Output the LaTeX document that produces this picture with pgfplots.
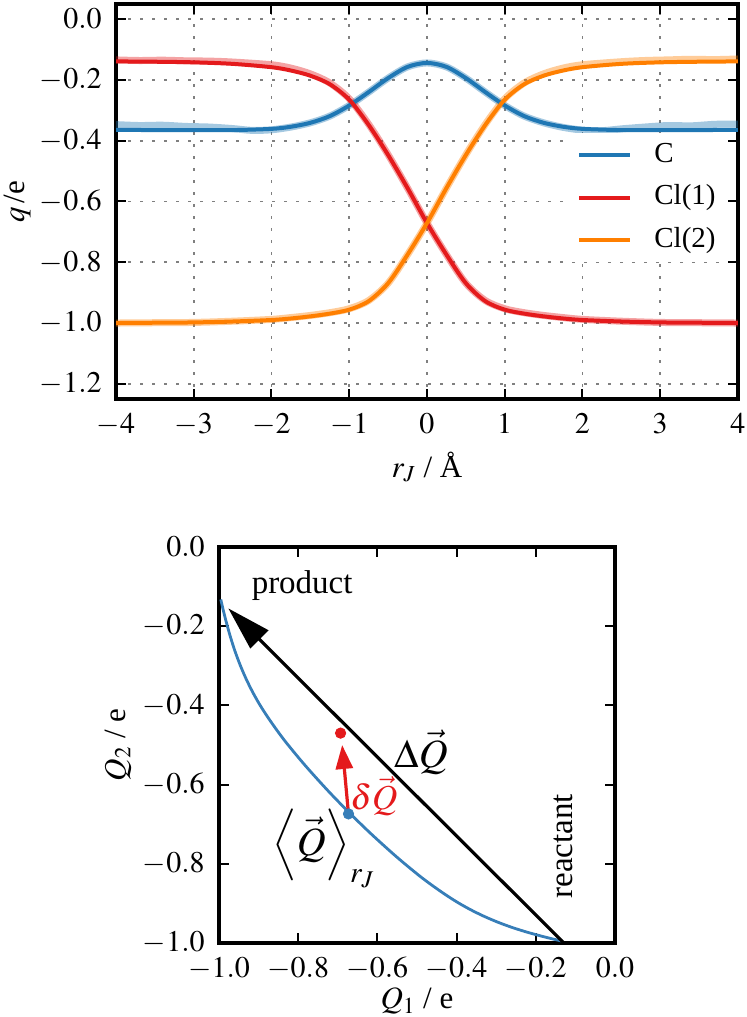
\documentclass[border=0pt]{standalone}
\usepackage{amsmath}
\usepackage{mathptmx}
\usepackage[no-math]{fontspec}
\setmainfont{Liberation Serif}
\usepackage{pgfplots}
\usepackage{pgfplotstable}
\pgfplotsset{compat=1.18}
\usetikzlibrary{arrows.meta}

\definecolor{cC}{RGB}{31,119,180}
\definecolor{cClA}{RGB}{228,26,28}
\definecolor{cClB}{RGB}{255,127,0}
\definecolor{cB}{RGB}{55,126,184}

\pgfplotstableread{
x y
-4 -0.364
-3.5 -0.365
-3 -0.365
-2.5 -0.365
-2 -0.361
-1.75 -0.354
-1.5 -0.341
-1.25 -0.319
-1 -0.284
-0.75 -0.240
-0.5 -0.194
-0.25 -0.157
0 -0.144
0.25 -0.157
0.5 -0.194
0.75 -0.240
1 -0.284
1.25 -0.319
1.5 -0.341
1.75 -0.354
2 -0.361
2.5 -0.365
3 -0.365
3.5 -0.365
4 -0.364
}\tabC

\pgfplotstableread{
x y
-4 -0.139
-3.5 -0.140
-3 -0.142
-2.5 -0.147
-2 -0.158
-1.75 -0.169
-1.5 -0.186
-1.25 -0.214
-1 -0.265
-0.75 -0.348
-0.5 -0.447
-0.25 -0.556
0 -0.671
0.25 -0.775
0.5 -0.869
0.75 -0.928
1 -0.956
1.25 -0.969
1.5 -0.978
1.75 -0.985
2 -0.990
2.5 -0.995
3 -0.998
3.5 -0.999
4 -1.000
}\tabClA

\pgfplotstableread{
x y
-4 -1.000
-3.5 -0.999
-3 -0.998
-2.5 -0.995
-2 -0.990
-1.75 -0.985
-1.5 -0.978
-1.25 -0.969
-1 -0.956
-0.75 -0.928
-0.5 -0.869
-0.25 -0.775
0 -0.671
0.25 -0.556
0.5 -0.447
0.75 -0.348
1 -0.265
1.25 -0.214
1.5 -0.186
1.75 -0.169
2 -0.158
2.5 -0.147
3 -0.142
3.5 -0.140
4 -0.139
}\tabClB

% lighter (raw) curves
\pgfplotstableread{
x y
-4 -0.347
-3.7 -0.350
-3.4 -0.349
-3.1 -0.353
-2.8 -0.355
-2.5 -0.360
-2.25 -0.366
-2 -0.364
-1.75 -0.355
-1.5 -0.341
-1.25 -0.319
-1 -0.284
-0.75 -0.240
-0.5 -0.194
-0.25 -0.157
0 -0.144
0.25 -0.157
0.5 -0.194
0.75 -0.240
1 -0.284
1.25 -0.319
1.5 -0.341
1.75 -0.356
2 -0.365
2.25 -0.367
2.5 -0.361
2.8 -0.355
3.1 -0.350
3.4 -0.351
3.7 -0.346
4 -0.345
}\tabCl

\pgfplotstableread{
x y
-4 -0.134
-3.7 -0.136
-3.4 -0.135
-3.1 -0.137
-2.8 -0.138
-2.5 -0.141
-2 -0.150
-1.75 -0.161
-1.5 -0.180
-1.25 -0.210
-1 -0.262
-0.75 -0.346
-0.5 -0.446
-0.25 -0.556
0 -0.671
0.25 -0.775
0.5 -0.869
0.75 -0.926
1 -0.953
1.25 -0.966
1.5 -0.975
1.75 -0.982
2 -0.988
2.5 -0.994
3 -0.998
3.5 -0.999
4 -1.000
}\tabClAl

\pgfplotstableread{
x y
-4 -1.000
-3.5 -0.999
-3 -0.998
-2.5 -0.994
-2 -0.988
-1.75 -0.982
-1.5 -0.975
-1.25 -0.966
-1 -0.953
-0.75 -0.926
-0.5 -0.869
-0.25 -0.775
0 -0.671
0.25 -0.556
0.5 -0.446
0.75 -0.346
1 -0.262
1.25 -0.210
1.5 -0.180
1.75 -0.161
2 -0.150
2.5 -0.140
2.8 -0.136
3.1 -0.134
3.4 -0.132
3.7 -0.133
4 -0.131
}\tabClBl

% Q2 versus Q1 (mean charges of Cl(1), Cl(2))
\pgfplotstableread{
x y
-0.9955 -0.1325
-0.9893 -0.1593
-0.9833 -0.1833
-0.9725 -0.2225
-0.9605 -0.2605
-0.9470 -0.2970
-0.9320 -0.3320
-0.9155 -0.3655
-0.8975 -0.3975
-0.8780 -0.4280
-0.8575 -0.4575
-0.8363 -0.4863
-0.8140 -0.5140
-0.7913 -0.5413
-0.7680 -0.5680
-0.7443 -0.5943
-0.7203 -0.6203
-0.6958 -0.6458
-0.6710 -0.6710
-0.6458 -0.6958
-0.6203 -0.7203
-0.5943 -0.7443
-0.5680 -0.7680
-0.5413 -0.7913
-0.5140 -0.8140
-0.4863 -0.8363
-0.4575 -0.8575
-0.4280 -0.8780
-0.3975 -0.8975
-0.3655 -0.9155
-0.3320 -0.9320
-0.2970 -0.9470
-0.2605 -0.9605
-0.2225 -0.9725
-0.1833 -0.9833
-0.1593 -0.9893
-0.1325 -0.9955
}\tabQ

\pgfplotsset{
  mystyle/.style={
    scale only axis,
    axis line style={line width=1.7bp},
    every tick/.style={line width=1bp, black},
    major tick length=5bp,
    tick align=inside,
    xtick pos=both, ytick pos=both,
    minor tick num=0,
    ticklabel style={font=\fontsize{15bp}{18bp}\selectfont},
    xticklabel style={inner sep=0pt, anchor=north, yshift=-7bp},
    yticklabel style={inner sep=0pt, anchor=east, xshift=-7bp},
    label style={font=\fontsize{15.5bp}{18bp}\selectfont},
  },
  onedec/.style={
    /pgf/number format/fixed,
    /pgf/number format/fixed zerofill,
    /pgf/number format/precision=1,
  }
}

\begin{document}
\begin{tikzpicture}
\useasboundingbox (0,0) rectangle (373.5bp,508.5bp);

% ---------------- top panel ----------------
\begin{axis}[mystyle,
  at={(58bp,309bp)}, anchor=south west,
  width=311bp, height=197.5bp,
  xmin=-4, xmax=4, ymin=-1.25, ymax=0.05,
  xtick={-4,-3,-2,-1,0,1,2,3,4},
  ytick={-1.2,-1,-0.8,-0.6,-0.4,-0.2,0},
  yticklabel style={onedec},
  grid=major,
  grid style={black!50, line width=0.8bp, dash pattern=on 1.7bp off 4.3bp},
  xlabel={$r_J$ / Å},
  ylabel={$q\,$/e},
  xlabel style={at={(axis description cs:0.5,-0.172)}, anchor=center},
  ylabel style={at={(axis description cs:-0.159,0.5)}, anchor=center},
  legend style={at={(0.7251,0.6734)}, anchor=north west, draw=none, fill=white,
    inner xsep=5bp, inner ysep=4bp,
    font=\fontsize{14.5bp}{17bp}\selectfont,
    nodes={inner sep=0pt, text height=10.5bp, text depth=3.5bp},
    row sep=7.25bp,
    /tikz/every odd column/.append style={column sep=11bp}},
  legend cell align=left,
  legend image code/.code={\draw[#1] (0bp,0bp) -- (25.5bp,0bp);},
]
\addplot[cC, line width=3.5bp, opacity=0.4, smooth, forget plot] table {\tabCl};
\addplot[cClA, line width=3.5bp, opacity=0.4, smooth, forget plot] table {\tabClAl};
\addplot[cClB, line width=3.5bp, opacity=0.4, smooth, forget plot] table {\tabClBl};
\addplot[cC, line width=2bp, smooth] table {\tabC};
\addlegendentry{C}
\addplot[cClA, line width=2bp, smooth] table {\tabClA};
\addlegendentry{Cl(1)}
\addplot[cClB, line width=2bp, smooth] table {\tabClB};
\addlegendentry{Cl(2)}
\end{axis}

% ---------------- bottom panel ----------------
\begin{axis}[mystyle,
  at={(109.5bp,37bp)}, anchor=south west,
  width=198bp, height=198bp,
  xmin=-1, xmax=0, ymin=-1, ymax=0,
  xtick={-1,-0.8,-0.6,-0.4,-0.2,0},
  ytick={-1,-0.8,-0.6,-0.4,-0.2,0},
  xticklabel style={onedec},
  yticklabel style={onedec},
  xlabel={$Q_1$ / e},
  ylabel={$Q_2$ / e},
  xlabel style={at={(axis description cs:0.5,-0.147)}, anchor=center},
  ylabel style={at={(axis description cs:-0.255,0.5)}, anchor=center},
  clip=false,
]
\addplot[cB, line width=1.4bp, smooth] table {\tabQ};
\addplot[black, line width=1.6bp, -{Triangle[length=22bp,width=12.5bp]}]
  coordinates {(-0.131,-0.998) (-0.9765,-0.155)};
\addplot[cClA, line width=1.6bp, -{Triangle[length=12bp,width=8.5bp]}]
  coordinates {(-0.673,-0.674) (-0.689,-0.500)};
\addplot[only marks, mark=*, mark size=2.6bp, cB] coordinates {(-0.673,-0.674)};
\addplot[only marks, mark=*, mark size=2.6bp, cClA] coordinates {(-0.693,-0.470)};

\node[font=\fontsize{16.5bp}{20bp}\selectfont] at (axis cs:-0.790,-0.0985) {product};
\node[font=\fontsize{20bp}{24bp}\selectfont] at (axis cs:-0.490,-0.518) {$\Delta\vec{Q}$};
\node[font=\fontsize{17.5bp}{21bp}\selectfont, text=cClA] at (axis cs:-0.609,-0.629) {$\delta\vec{Q}$};
\node[font=\fontsize{20bp}{24bp}\selectfont, anchor=west, inner sep=0pt] at (axis cs:-0.866,-0.762) {$\Big\langle\vec{Q}\Big\rangle_{r_J}$};
\node[font=\fontsize{16.5bp}{20bp}\selectfont, rotate=90] at (axis cs:-0.131,-0.756) {reactant};
\end{axis}
\end{tikzpicture}
\end{document}
